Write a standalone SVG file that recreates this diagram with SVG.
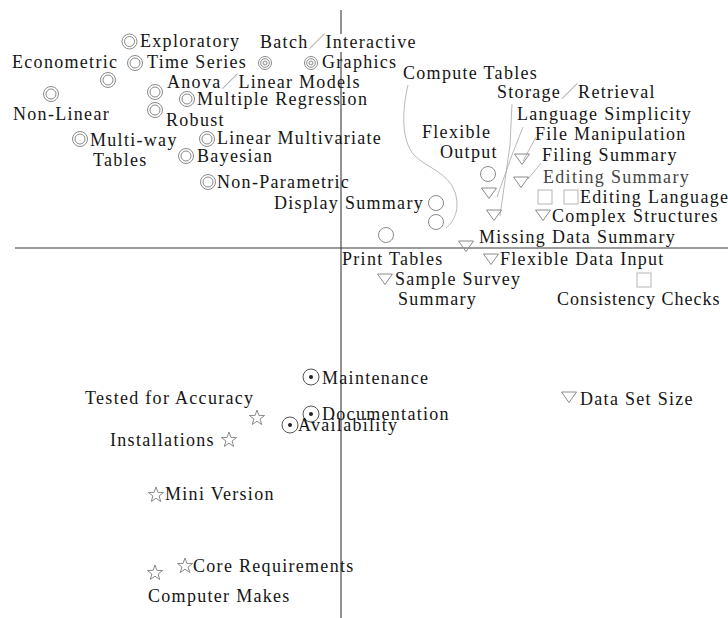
<svg xmlns="http://www.w3.org/2000/svg" xmlns:xlink="http://www.w3.org/1999/xlink" width="728" height="618" viewBox="0 0 728 618">
<style>
text{font-family:"Liberation Serif","Noto Sans CJK JP",serif;font-size:18px;letter-spacing:1.3px;fill:#151515}
.sl{fill:#9a9a9a;letter-spacing:0;font-size:17px}
.m{fill:none;stroke:#8a8a8a;stroke-width:1}
.ax{stroke:#3a3a3a;stroke-width:1.1;fill:none}
.cn{fill:none;stroke:#b0b0b0;stroke-width:0.9}
</style>
<defs>
<g id="dc" class="m"><circle r="7.5"/><circle r="5"/></g>
<g id="tc" class="m"><circle r="6.5"/><circle r="4.3"/><circle r="2"/></g>
<circle id="oc" class="m" r="7.5"/>
<polygon id="tri" class="m" points="-7.5,-5 7.5,-5 0,5.5"/>
<rect id="sq" class="m" x="-7" y="-7" width="14" height="14" style="stroke:#b5b5b5"/>
<g id="dt"><circle class="m" r="8" style="stroke:#555"/><circle r="2" fill="#222"/></g>
<polygon id="st" class="m" points="0,-8 1.9,-2.6 7.6,-2.5 3.1,1 4.7,6.5 0,3.2 -4.7,6.5 -3.1,1 -7.6,-2.5 -1.9,-2.6"/>
</defs>

<g id="axes">
<line class="ax" x1="341" y1="10" x2="341" y2="34"/>
<line class="ax" x1="341" y1="52" x2="341" y2="618"/>
<line class="ax" x1="15" y1="248" x2="728" y2="248"/>
</g>

<g id="connectors">
<path class="cn" d="M408,85 C402,110 401,140 414,155 C425,167 448,172 455,192 C460,208 455,221 446,228"/>
<path class="cn" d="M512,104 L510,145 L500,216"/>
<path class="cn" d="M523,127 L512,155 L497,197"/>
<path class="cn" d="M536,137 L523,161"/>
<path class="cn" d="M541,163 L528,179"/>
</g>

<g id="exploratory"><use href="#dc" x="129.5" y="41.5"/><text x="140" y="47">Exploratory</text></g>
<g id="batch-interactive"><text x="260" y="48">Batch<tspan class="sl">／</tspan>Interactive</text></g>
<g id="econometric"><text x="12" y="68">Econometric</text></g>
<g id="time-series"><use href="#dc" x="135" y="63"/><text x="147" y="68">Time Series</text></g>
<g id="mark-ts2"><use href="#tc" x="265" y="63"/></g>
<g id="graphics"><use href="#tc" x="311" y="63"/><text x="322" y="68">Graphics</text></g>
<g id="mark-econ"><use href="#dc" x="108" y="80"/></g>
<g id="anova"><text x="167" y="88">Anova<tspan class="sl">／</tspan>Linear Models</text></g>
<g id="compute-tables"><text x="403" y="79">Compute Tables</text></g>
<g id="mark-nonlinear"><use href="#dc" x="51" y="94"/></g>
<g id="mark-anova"><use href="#dc" x="155" y="92"/></g>
<g id="multiple-regression"><use href="#dc" x="187" y="99"/><text x="197" y="105">Multiple Regression</text></g>
<g id="storage-retrieval"><text x="497" y="98">Storage<tspan class="sl">／</tspan>Retrieval</text></g>
<g id="robust"><use href="#dc" x="155" y="110"/><text x="166" y="126">Robust</text></g>
<g id="non-linear"><text x="13" y="120">Non-Linear</text></g>
<g id="language-simplicity"><text x="517" y="120">Language Simplicity</text></g>
<g id="multi-way"><use href="#dc" x="80" y="139"/><text x="90" y="146">Multi-way</text><text x="93" y="166">Tables</text></g>
<g id="linear-multivariate"><use href="#dc" x="207" y="139"/><text x="217" y="144">Linear Multivariate</text></g>
<g id="flexible-output"><text x="422" y="138">Flexible</text><text x="440" y="158">Output</text><use href="#oc" x="488" y="174"/></g>
<g id="file-manipulation"><text x="535" y="140">File Manipulation</text></g>
<g id="bayesian"><use href="#dc" x="186" y="156"/><text x="197" y="162">Bayesian</text></g>
<g id="filing-summary"><use href="#tri" x="522" y="159"/><text x="542" y="161">Filing Summary</text></g>
<g id="editing-summary"><use href="#tri" x="521" y="182"/><text x="543" y="183" style="fill:#444">Editing Summary</text></g>
<g id="non-parametric"><use href="#dc" x="208" y="182"/><text x="217" y="188">Non-Parametric</text></g>
<g id="mark-tri-a"><use href="#tri" x="489" y="193"/></g>
<g id="editing-language"><use href="#sq" x="545" y="197"/><use href="#sq" x="571" y="197"/><text x="580" y="203">Editing Language</text></g>
<g id="display-summary"><text x="274" y="209">Display Summary</text><use href="#oc" x="436" y="203"/><use href="#oc" x="436" y="222"/></g>
<g id="complex-structures"><use href="#tri" x="494" y="215"/><use href="#tri" x="543" y="215"/><text x="552" y="222">Complex Structures</text></g>
<g id="print-tables"><use href="#oc" x="386" y="235"/><text x="342" y="265">Print Tables</text></g>
<g id="missing-data"><use href="#tri" x="466" y="246"/><text x="479" y="243">Missing Data Summary</text></g>
<g id="flexible-data-input"><use href="#tri" x="491" y="259"/><text x="500" y="265">Flexible Data Input</text></g>
<g id="sample-survey"><use href="#tri" x="385" y="279"/><text x="395" y="285">Sample Survey</text><text x="398" y="305">Summary</text></g>
<g id="consistency-checks"><use href="#sq" x="644" y="280"/><text x="557" y="305" style="letter-spacing:1px">Consistency Checks</text></g>

<g id="maintenance"><use href="#dt" x="311" y="377"/><text x="322" y="384">Maintenance</text></g>
<g id="tested-accuracy"><text x="85" y="404">Tested for Accuracy</text><use href="#st" x="257" y="418"/></g>
<g id="documentation"><use href="#dt" x="311" y="414"/><text x="322" y="420">Documentation</text></g>
<g id="availability"><use href="#dt" x="290" y="425"/><text x="298" y="431">Availability</text></g>
<g id="installations"><text x="110" y="446">Installations</text><use href="#st" x="229" y="440"/></g>
<g id="data-set-size"><use href="#tri" x="569" y="397"/><text x="580" y="405">Data Set Size</text></g>
<g id="mini-version"><use href="#st" x="156" y="495"/><text x="165" y="500">Mini Version</text></g>
<g id="core-requirements"><use href="#st" x="185" y="566"/><text x="193" y="572">Core Requirements</text></g>
<g id="computer-makes"><use href="#st" x="155" y="573"/><text x="148" y="602">Computer Makes</text></g>
</svg>
